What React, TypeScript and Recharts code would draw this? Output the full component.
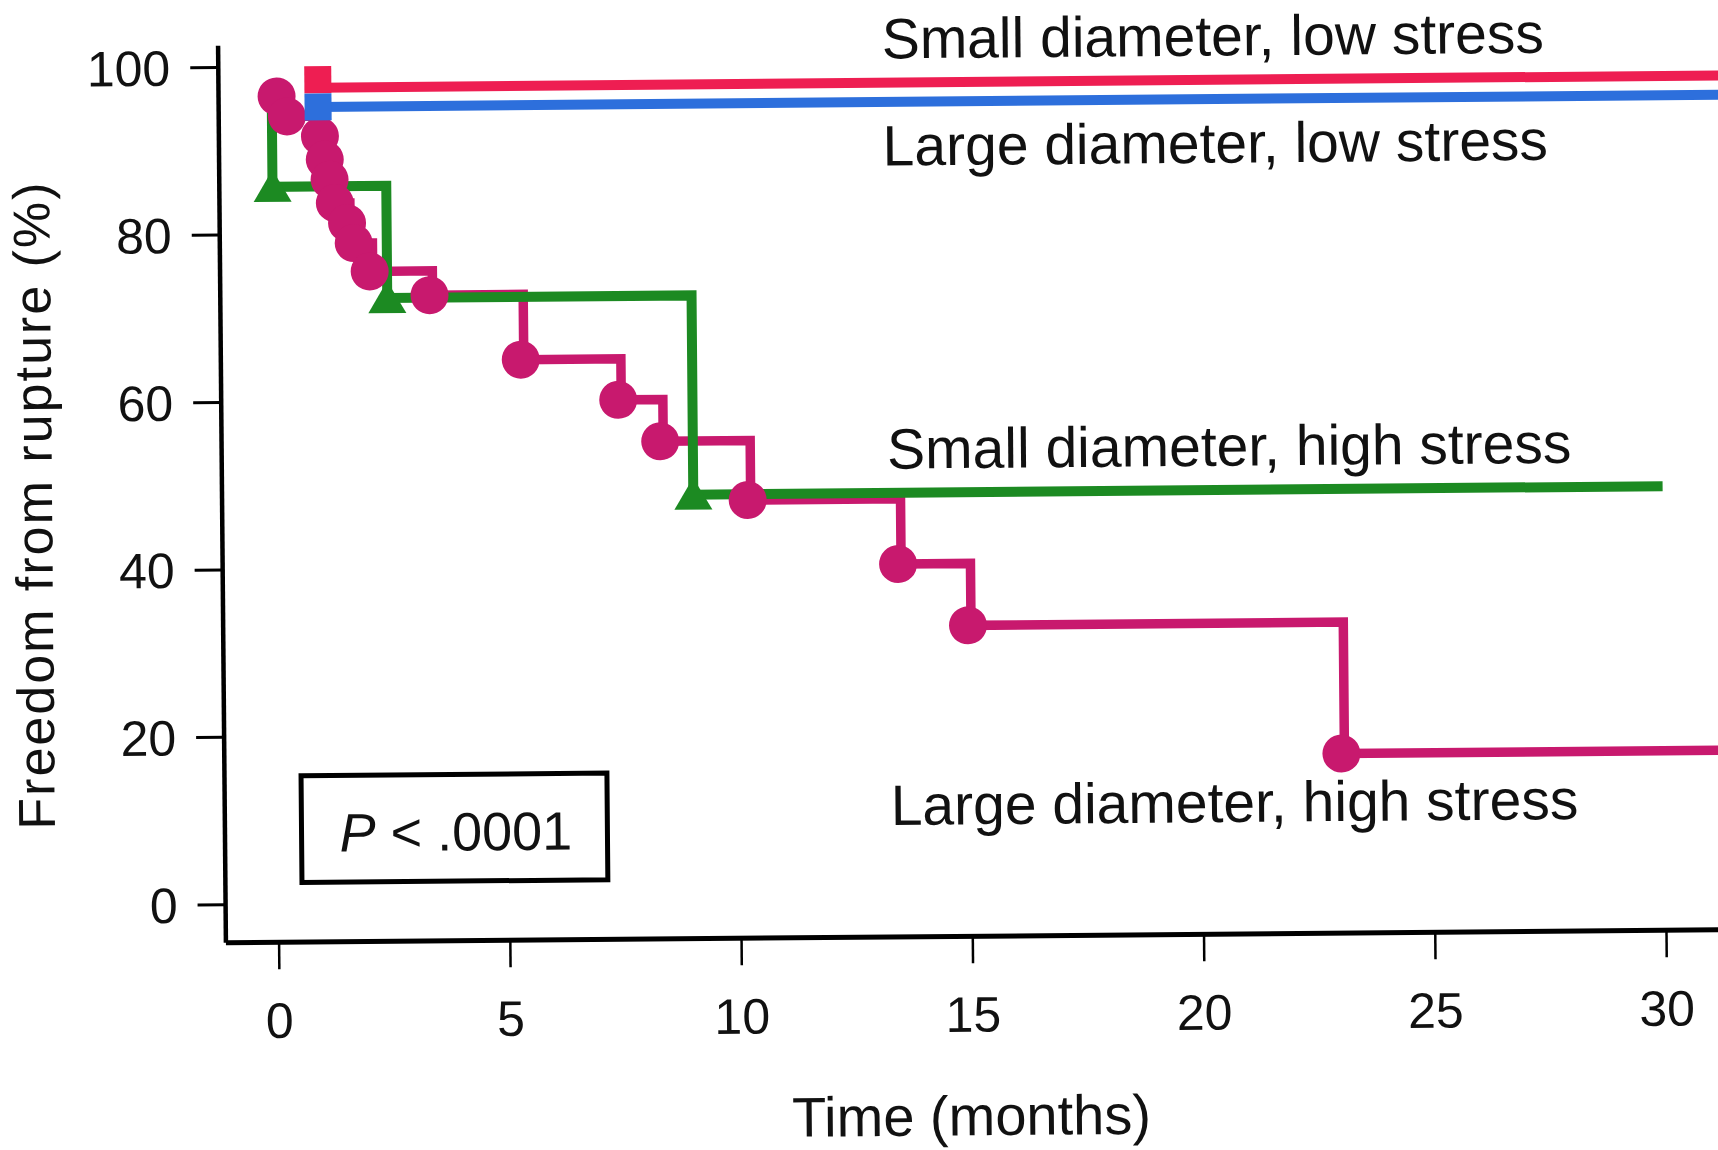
import { ComposedChart, Line, XAxis, YAxis, ReferenceDot, ReferenceArea } from 'recharts';

// Kaplan-Meier curves: time (months) / freedom from rupture (%) / marker drawn
const smallLowTime = [1.0, 31.5];
const smallLowPct = [97.5, 97.5];
const smallLowMark = [true, false];

const largeLowTime = [1.0, 31.5];
const largeLowPct = [95.2, 95.2];
const largeLowMark = [true, false];

const smallHighTime = [0, 0, 2.46, 9.04, 30];
const smallHighPct = [97.3, 85.7, 72.3, 48.5, 48.5];
const smallHighMark = [false, true, true, true, false];

const largeHighTime = [0.17, 0.39, 1.1, 1.2, 1.3, 1.41, 1.67, 1.81, 2.15, 3.44, 5.4, 7.5, 8.4, 10.28, 13.52, 15.02, 23.07, 31.5];
const largeHighPct = [96.5, 94.1, 91.7, 88.9, 86.5, 83.7, 81.3, 78.9, 75.5, 72.6, 64.8, 59.9, 54.9, 47.8, 40.0, 32.6, 16.9, 16.9];
const largeHighMark = [true, true, true, true, true, true, true, true, true, true, true, true, true, true, true, true, true, false];

const xTicks = [0, 5, 10, 15, 20, 25, 30];
const yTicks = [0, 20, 40, 60, 80, 100];

const FONT = '"Liberation Sans", Arial, Helvetica, sans-serif';
const RED = '#EE1E52';
const BLUE = '#2D6FDC';
const GREEN = '#1C8A22';
const MAGENTA = '#C8196E';

type Row = { x: number; y: number; m: boolean };
const rows = (xs: number[], ys: number[], ms: boolean[]): Row[] =>
  xs.map((x, i) => ({ x, y: ys[i], m: ms[i] }));

const smallLow = rows(smallLowTime, smallLowPct, smallLowMark);
const largeLow = rows(largeLowTime, largeLowPct, largeLowMark);
const smallHigh = rows(smallHighTime, smallHighPct, smallHighMark);
const largeHigh = rows(largeHighTime, largeHighPct, largeHighMark);

const circleDot = (p: any) =>
  p.payload.m ? (
    <circle key={`c-${p.index}`} cx={p.cx - 3} cy={p.cy} r={19} fill={MAGENTA} />
  ) : (
    <g key={`c-${p.index}`} />
  );

const triangleDot = (p: any) =>
  p.payload.m ? (
    <path
      key={`t-${p.index}`}
      d={`M${p.cx},${p.cy - 17} L${p.cx + 19},${p.cy + 15} L${p.cx - 19},${p.cy + 15} Z`}
      fill={GREEN}
    />
  ) : (
    <g key={`t-${p.index}`} />
  );

const squareDot = (color: string, lift: number) => (p: any) =>
  p.payload.m ? (
    <rect key={`s-${p.index}`} x={p.cx - 13.5} y={p.cy - 13.5 - lift} width={27} height={27} fill={color} />
  ) : (
    <g key={`s-${p.index}`} />
  );

const curveLabel = (text: string) => (props: any) => {
  const vb = props.viewBox;
  return (
    <text x={vb.x} y={vb.y} fontSize={57} fill="#111" fontFamily={FONT}>
      {text}
    </text>
  );
};

const curveLabels = [
  { text: 'Small diameter, low stress', x: 13.2, y: 100.4 },
  { text: 'Large diameter, low stress', x: 13.2, y: 87.6 },
  { text: 'Small diameter, high stress', x: 13.24, y: 51.4 },
  { text: 'Large diameter, high stress', x: 13.25, y: 8.84 },
];

const xTitle = () => (
  <text x={970} y={1142} textAnchor="middle" fontSize={56} fill="#111" fontFamily={FONT}>
    Time (months)
  </text>
);

const yTitle = () => (
  <text
    x={56}
    y={503.6}
    transform="rotate(-90 56 503.6)"
    textAnchor="middle"
    fontSize={52}
    letterSpacing={2}
    fill="#111"
    fontFamily={FONT}
  >
    Freedom from rupture (%)
  </text>
);

const pLabel = (props: any) => {
  const vb = props.viewBox;
  return (
    <text x={vb.x + 38} y={vb.y + 76} fontSize={54} fill="#111" fontFamily={FONT}>
      <tspan fontStyle="italic">P</tspan>
      {' < .0001'}
    </text>
  );
};

export default function App() {
  return (
    <div
      style={{
        position: 'absolute', left: 0, top: 0, width: 1718, height: 1150,
        overflow: 'hidden', background: '#fff',
      }}
    >
      <div style={{ width: 1760, height: 1170, transform: 'rotate(-0.5deg)', transformOrigin: '203px 953px' }}>
        <ComposedChart width={1760} height={1170} margin={{ top: 46, right: 24, bottom: 0, left: 0 }}>
          <XAxis
            type="number"
            dataKey="x"
            domain={[-1.15, 31.5]}
            ticks={xTicks}
            allowDataOverflow
            height={227}
            tickSize={27}
            tickMargin={33}
            axisLine={{ stroke: '#000', strokeWidth: 5 }}
            tickLine={{ stroke: '#000', strokeWidth: 2.5 }}
            tick={{ fontSize: 50, fill: '#111', fontFamily: FONT }}
            label={xTitle}
          />
          <YAxis
            type="number"
            dataKey="y"
            domain={[-4.54, 102.6]}
            ticks={yTicks}
            allowDataOverflow
            width={226}
            tickSize={28}
            tickMargin={20}
            axisLine={{ stroke: '#000', strokeWidth: 4.5 }}
            tickLine={{ stroke: '#000', strokeWidth: 3 }}
            tick={{ fontSize: 50, fill: '#111', fontFamily: FONT }}
            label={yTitle}
          />
          <ReferenceArea
            x1={0.506}
            x2={7.12}
            y1={2.59}
            y2={15.33}
            fill="#fff"
            fillOpacity={1}
            stroke="#000"
            strokeWidth={5}
            ifOverflow="visible"
            label={pLabel}
          />
          {curveLabels.map((l) => (
            <ReferenceDot
              key={l.text}
              x={l.x}
              y={l.y}
              r={0}
              fill="none"
              stroke="none"
              ifOverflow="visible"
              label={curveLabel(l.text)}
            />
          ))}
          <Line
            data={largeHigh}
            dataKey="y"
            type="stepAfter"
            stroke={MAGENTA}
            strokeWidth={9.5}
            dot={circleDot}
            activeDot={false}
            isAnimationActive={false}
          />
          <Line
            data={largeLow}
            dataKey="y"
            type="stepAfter"
            stroke={BLUE}
            strokeWidth={10}
            dot={squareDot(BLUE, 0)}
            activeDot={false}
            isAnimationActive={false}
          />
          <Line
            data={smallLow}
            dataKey="y"
            type="stepAfter"
            stroke={RED}
            strokeWidth={10}
            dot={squareDot(RED, 8)}
            activeDot={false}
            isAnimationActive={false}
          />
          <Line
            data={smallHigh}
            dataKey="y"
            type="stepAfter"
            stroke={GREEN}
            strokeWidth={10}
            dot={triangleDot}
            activeDot={false}
            isAnimationActive={false}
          />
        </ComposedChart>
      </div>
    </div>
  );
}
